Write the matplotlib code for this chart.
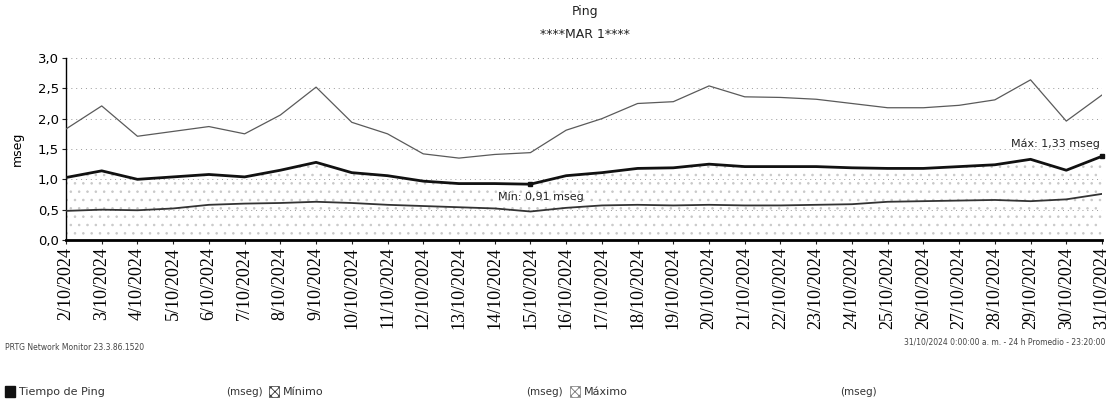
import matplotlib
matplotlib.use("Agg")
import matplotlib.pyplot as plt
from matplotlib.patches import Rectangle

dates = [f"{d}/10/2024" for d in range(2, 32)]
ping_avg = [1.03, 1.14, 1.00, 1.04, 1.08, 1.04, 1.15, 1.28, 1.11, 1.06, 0.97, 0.93, 0.93, 0.92,
            1.06, 1.11, 1.18, 1.19, 1.25, 1.21, 1.21, 1.21, 1.19, 1.18, 1.18, 1.21, 1.24, 1.33, 1.15, 1.38]
ping_min = [0.48, 0.50, 0.49, 0.52, 0.58, 0.60, 0.61, 0.63, 0.61, 0.58, 0.56, 0.54, 0.52, 0.47,
            0.53, 0.57, 0.58, 0.57, 0.58, 0.57, 0.57, 0.58, 0.59, 0.63, 0.64, 0.65, 0.66, 0.64, 0.67, 0.76]
ping_max = [1.83, 2.21, 1.71, 1.79, 1.87, 1.75, 2.06, 2.52, 1.94, 1.75, 1.42, 1.35, 1.41, 1.44,
            1.81, 2.00, 2.25, 2.28, 2.54, 2.36, 2.35, 2.32, 2.25, 2.18, 2.18, 2.22, 2.31, 2.64, 1.96, 2.39]
yticks = [0.0, 0.5, 1.0, 1.5, 2.0, 2.5, 3.0]
ytick_labels = ["0,0", "0,5", "1,0", "1,5", "2,0", "2,5", "3,0"]

W, H = 1110, 404
fig = plt.figure(figsize=(W / 100, H / 100), dpi=100)
fig.patch.set_facecolor("white")

def fx(px):
    return px / W

def fy(py):
    return 1 - py / H

ax = fig.add_axes([fx(66), fy(240), fx(1102 - 66), (240 - 58) / H])
x = list(range(len(dates)))

plt.rcParams["hatch.linewidth"] = 0.6
ax.fill_between(x, 0, ping_avg, facecolor="none", edgecolor="#c8c8c8", hatch="..", linewidth=0)

for t in yticks:
    ax.axhline(t, color="#999999", lw=0.7, ls=(0, (1, 4)), zorder=1)

ax.plot(x, ping_max, color="#5a5a5a", lw=0.9, zorder=3)
ax.plot(x, ping_min, color="#333333", lw=1.3, zorder=3)
ax.plot(x, ping_avg, color="#111111", lw=2.0, zorder=4)

imax = ping_avg.index(max(ping_avg))
imin = ping_avg.index(min(ping_avg))
ax.plot([x[imax]], [ping_avg[imax]], "s", color="#111111", ms=3.5, zorder=5, clip_on=False)
ax.plot([x[imin]], [ping_avg[imin]], "s", color="#111111", ms=3, zorder=5)
ax.text(x[imin] - 0.9, ping_avg[imin] - 0.2, "Mín: 0,91 mseg", fontsize=8, color="#222222",
        ha="left", va="center")
ax.text(x[imax] - 0.05, ping_avg[imax] + 0.2, "Máx: 1,33 mseg", fontsize=8, color="#222222",
        ha="right", va="center")

ax.set_xlim(0, len(dates) - 1)
ax.set_ylim(0, 3.0)
ax.set_yticks(yticks)
ax.set_yticklabels(ytick_labels, fontsize=9.5)
ax.set_xticks(x)
ax.set_xticklabels(dates, rotation=90, fontsize=13, family="Liberation Serif")
ax.tick_params(axis="both", length=3, width=0.8, color="#222222", pad=2)
ax.set_ylabel("mseg", fontsize=9, labelpad=10)
for s in ["top", "right"]:
    ax.spines[s].set_visible(False)
ax.spines["left"].set_linewidth(1.0)
ax.spines["bottom"].set_linewidth(2.0)
ax.set_facecolor("white")

fig.text(fx(585), fy(12), "Ping", fontsize=9, ha="center", va="center", color="#222222")
fig.text(fx(585), fy(35), "****MAR 1****", fontsize=9, ha="center", va="center", color="#222222")

fig.text(fx(5), fy(347), "PRTG Network Monitor 23.3.86.1520", fontsize=5.5, ha="left", va="center",
         color="#444444")
fig.text(fx(1105), fy(342), "31/10/2024 0:00:00 a. m. - 24 h Promedio - 23:20:00", fontsize=5.5,
         ha="right", va="center", color="#444444")

# legend
fig.patches.append(Rectangle((fx(5), fy(397)), fx(10), 11 / H, transform=fig.transFigure,
                             facecolor="#111111", edgecolor="#111111"))
fig.text(fx(19), fy(392), "Tiempo de Ping", fontsize=8, ha="left", va="center", color="#333333")
fig.text(fx(263), fy(392), "(mseg)", fontsize=7.5, ha="right", va="center", color="#333333")
fig.patches.append(Rectangle((fx(269), fy(397)), fx(10), 11 / H, transform=fig.transFigure,
                             facecolor="white", edgecolor="#333333", hatch="xxxx", lw=0.5))
fig.text(fx(283), fy(392), "Mínimo", fontsize=8, ha="left", va="center", color="#333333")
fig.text(fx(563), fy(392), "(mseg)", fontsize=7.5, ha="right", va="center", color="#333333")
fig.patches.append(Rectangle((fx(570), fy(397)), fx(10), 11 / H, transform=fig.transFigure,
                             facecolor="white", edgecolor="#777777", hatch="xxxx", lw=0.5))
fig.text(fx(584), fy(392), "Máximo", fontsize=8, ha="left", va="center", color="#333333")
fig.text(fx(840), fy(392), "(mseg)", fontsize=7.5, ha="left", va="center", color="#333333")

fig.savefig("out.png", dpi=100, facecolor="white")
